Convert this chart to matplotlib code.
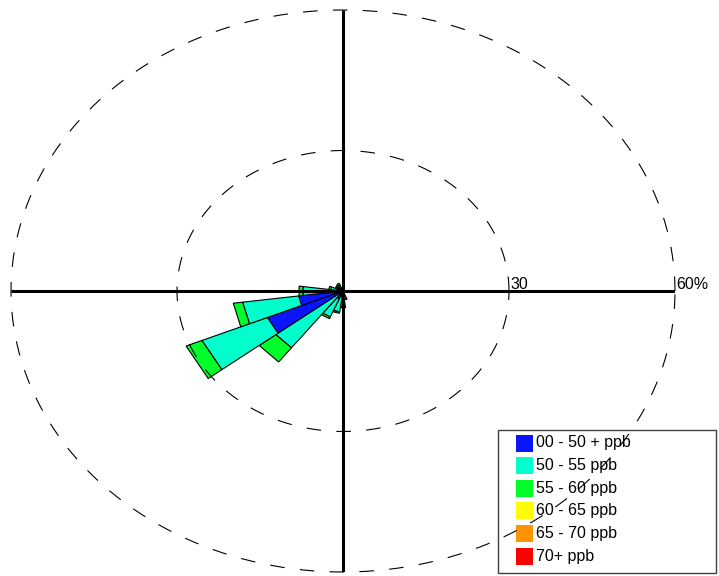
import numpy as np
import matplotlib.pyplot as plt
from matplotlib.patches import Polygon, Rectangle

plt.rcParams['font.family'] = ['Liberation Sans', 'DejaVu Sans']
plt.rcParams['lines.scale_dashes'] = False

# wind direction sectors (degrees, 15 degree bins) and frequency (%) per band
directions = [165, 180, 195, 210, 225, 240, 255, 270, 285, 300, 315, 330]
freq_00_50 = [0.5, 1.0, 1.2, 1.8, 1.0, 14.8, 8.1, 1.5, 0.8, 0.4, 0.4, 0.5]
freq_50_55 = [1.2, 2.4, 3.3, 4.2, 14.3, 12.8, 10.2, 5.8, 1.4, 0.8, 0.9, 0.9]
freq_55_60 = [0.2, 0.2, 0.3, 0.4, 3.8, 3.1, 1.7, 0.7, 0.4, 0.3, 0.3, 0.4]
freq_60_65 = [0, 0, 0, 0, 0, 0, 0, 0, 0, 0, 0, 0]
freq_65_70 = [0, 0, 0, 0, 0, 0, 0, 0, 0, 0, 0, 0]
freq_70_up = [0, 0, 0, 0, 0, 0, 0, 0, 0, 0, 0, 0]

bands = ['00 - 50 + ppb', '50 - 55 ppb', '55 - 60 ppb',
         '60 - 65 ppb', '65 - 70 ppb', '70+ ppb']
colors = ['#0a14ff', '#00ffcc', '#00ff2a', '#ffff00', '#ff9400', '#ff0000']
rings = [30, 60]
ring_labels = ['30', '60%']
sector_width = 15

series = [freq_00_50, freq_50_55, freq_55_60, freq_60_65, freq_65_70, freq_70_up]

fig = plt.figure(figsize=(7.19, 5.76), dpi=100)
ax = fig.add_axes([11 / 719, 4 / 576, 664 / 719, 562 / 576])
ax.set_xlim(-60, 60)
ax.set_ylim(-60, 60)
ax.axis('off')

# stacked wedges
for i, d in enumerate(directions):
    a0 = np.radians(90 - (d - sector_width / 2))
    a1 = np.radians(90 - (d + sector_width / 2))
    r0 = 0
    for vals, c in zip(series, colors):
        v = vals[i]
        if v <= 0:
            continue
        r1 = r0 + v
        pts = [(r0 * np.cos(a0), r0 * np.sin(a0)), (r1 * np.cos(a0), r1 * np.sin(a0)),
               (r1 * np.cos(a1), r1 * np.sin(a1)), (r0 * np.cos(a1), r0 * np.sin(a1))]
        ax.add_patch(Polygon(pts, closed=True, facecolor=c, edgecolor='black',
                             lw=0.8, zorder=2))
        r0 = r1

# dashed rings
t = np.linspace(0, 2 * np.pi, 600)
for r, lab in zip(rings, ring_labels):
    ax.plot(r * np.cos(t), r * np.sin(t), color='black', lw=0.8,
            dashes=(10.5, 11), zorder=4, clip_on=False)
    ax.text(r + 0.3, 0.35, lab, fontsize=11.5, ha='left', va='baseline', zorder=6)

# axis cross
ax.plot([-60, 60], [0, 0], color='black', lw=2.2, zorder=5, solid_capstyle='butt')
ax.plot([0, 0], [-60, 60], color='black', lw=2.2, zorder=5, solid_capstyle='butt')

# legend box (drawn below the rings like the original)
W, H = 719, 576
ax.add_patch(Rectangle((498 / W, 1 - 573 / H), 218 / W, 143 / H,
                       transform=fig.transFigure, facecolor='white',
                       edgecolor='#404040', lw=1.0, zorder=1, clip_on=False))
for k, (lab, c) in enumerate(zip(bands, colors)):
    yc = 443 + 22.6 * k
    ax.add_patch(Rectangle((516 / W, 1 - (yc + 8.5) / H), 17 / W, 17 / H,
                           transform=fig.transFigure, facecolor=c,
                           edgecolor='none', zorder=1.5, clip_on=False))
    ax.text(536 / W, 1 - yc / H, lab, transform=fig.transFigure,
            fontsize=11.5, ha='left', va='center', zorder=1.5)

fig.savefig('out.png', dpi=100)
